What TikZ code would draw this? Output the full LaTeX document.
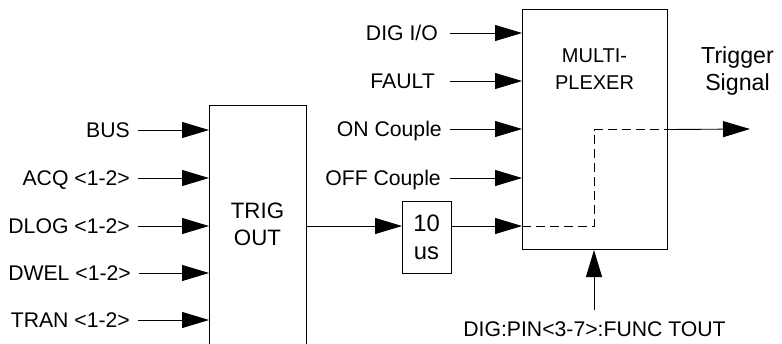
\documentclass[tikz,border=0pt]{standalone}
\usepackage{fontspec}
\setmainfont{Liberation Sans}
\usetikzlibrary{arrows.meta}
\begin{document}
\begin{tikzpicture}[x=1pt,y=-1pt,
  every node/.style={font=\fontsize{21.2}{27.5}\selectfont},
  lbl/.style={inner sep=0pt, text height=15pt, text depth=1pt},
  box/.style={draw, line width=1pt, inner sep=0pt},
  wire/.style={line width=0.9pt},
  arr/.style={wire, -{Triangle[length=27pt,width=16pt]}},
  dsh/.style={wire, dash pattern=on 9pt off 5pt}]
\useasboundingbox (0,0) rectangle (782,343);
\begin{scope}
\clip (0,0) rectangle (782,343);
\node[box, minimum width=97pt, minimum height=300pt, anchor=north west] (trig) at (209,105) {};
\end{scope}
\node[align=center, font=\fontsize{22.3}{27}\selectfont] (trigtxt) at (257.5,224) {TRIG\\OUT};
% left inputs
\node[lbl, anchor=east] (bus) at (130,130) {BUS};
\node[lbl, anchor=east] (acq) at (130,178) {ACQ <1-2>};
\node[lbl, anchor=east] (dlog) at (130,226) {DLOG <1-2>};
\node[lbl, anchor=east] (dwel) at (131,273) {DWEL <1-2>};
\node[lbl, anchor=east] (tran) at (130,320) {TRAN <1-2>};
\foreach \n in {bus,acq,dlog,dwel,tran}
  \draw[arr] ([xshift=8pt]\n.east) -- (\n.east -| trig.west);
% 10 us
\node[box, minimum width=49pt, minimum height=72pt, anchor=north west] (tenus) at (402,201) {};
\node[align=center, font=\fontsize{23.8}{28}\selectfont] (tentxt) at (426.5,237) {10\\us};
% multiplexer
\node[box, minimum width=145pt, minimum height=240pt, anchor=north west] (mux) at (522,9) {};
\node[align=center, font=\fontsize{20}{27}\selectfont] (muxtxt) at (594.5,69) {MULTI-\\PLEXER};
\node[lbl, anchor=east] (dig) at (438,33) {DIG I/O};
\node[lbl, anchor=east] (fault) at (435,81) {FAULT};
\node[lbl, anchor=east] (onc) at (442,129) {ON Couple};
\node[lbl, anchor=east] (offc) at (441,178) {OFF Couple};
\draw[arr] ([xshift=12pt]dig.east) -- (dig.east -| mux.west);
\draw[arr] ([xshift=15pt]fault.east) -- (fault.east -| mux.west);
\draw[arr] ([xshift=8pt]onc.east) -- (onc.east -| mux.west);
\draw[arr] ([xshift=9pt]offc.east) -- (offc.east -| mux.west);
% signal path
\coordinate (sig) at (594,226);
\draw[arr] (sig -| trig.east) -- (sig -| tenus.west);
\draw[arr] (sig -| tenus.east) -- (sig -| mux.west);
\draw[dsh] (sig -| mux.west) -- (sig) -- (sig |- mux.center) -- (mux.east |- mux.center);
\coordinate (out) at (750,129);
\draw[arr] (mux.east |- mux.center) -- (out);
\node[align=center, font=\fontsize{23.2}{27}\selectfont] (trigsig) at (737.5,71) {Trigger\\Signal};
% bottom control
\node[anchor=base] (pin) at (594.5,336) {DIG:PIN<3-7>:FUNC TOUT};
\coordinate (pinend) at (594,310);
\draw[arr] (pinend) -- (pinend |- mux.south);
\end{tikzpicture}
\end{document}
